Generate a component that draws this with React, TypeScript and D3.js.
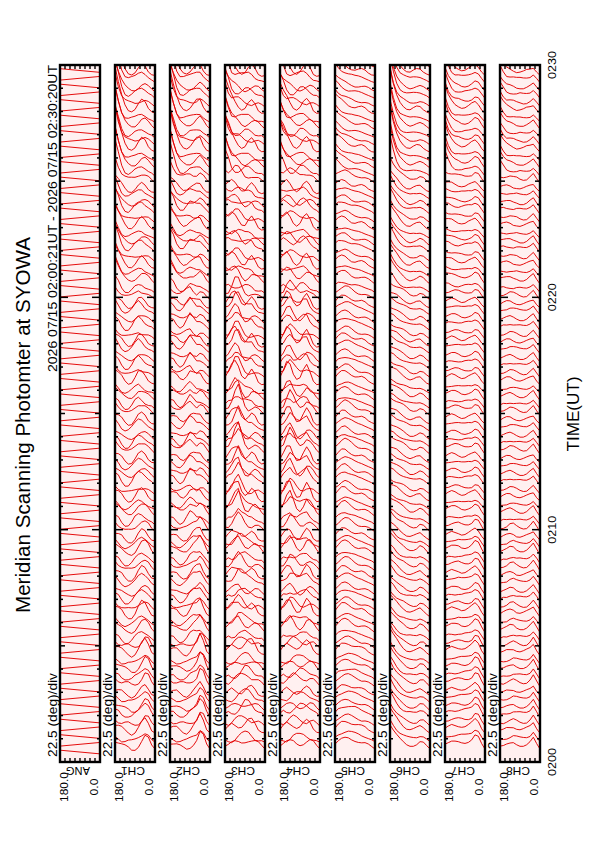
import React from 'react';
import * as d3 from 'd3';

// ---------------- data ----------------
const TITLE = 'Meridian Scanning Photomter at SYOWA';
const DATE_RANGE = '2026 07/15 02:00:21UT - 2026 07/15 02:30:20UT';
const SCALE_LABEL = '22.5 (deg)/div';
const CHANNELS = ['ANG', 'CH1', 'CH2', 'CH3', 'CH4', 'CH5', 'CH6', 'CH7', 'CH8'];
const TIME_TICK_LABELS = ['0200', '0210', '0220', '0230'];
const TIME_TICK_MIN = [0, 10, 20, 30];
const ANGLE_LABELS = ['180.0', '0.0'];
const ANGLE_RANGE = [180, 0];
const ANGLE_TICKS = [22.5, 45, 67.5, 90, 112.5, 135, 157.5];

// scans: 02:00:21 start, one sweep every 20 s, 90 sweeps
const SCAN_START_SEC = 21;
const SCAN_INTERVAL_SEC = 20;
const SCAN_COUNT = 90;

// ANG trace: displacement at the start / end of each sweep (units)
const ANG_SWEEP = [0, 3.8];

// sample angles across each sweep (deg)
const ANGLES = [180, 165, 150, 135, 120, 105, 90, 75, 60, 45, 30, 15, 0];
// profiles hold for 5-minute blocks starting at these minutes after 02:00
const SEGMENT_START_MIN = [0, 5, 10, 15, 20, 25];
// sweep-to-sweep gain fluctuation and small-scale structure
const SCAN_GAIN = [1.0, 0.8, 1.15, 0.9, 1.25, 0.85, 1.05, 0.75, 1.2, 0.95, 1.1, 0.88, 1.3];
const SCAN_WIGGLE = [
  [0, 1, 2, 2, 1, -1, -2, -2, -1, 1, 2, 1, 0],
  [0, -1, -2, -1, 1, 2, 2, 1, -1, -2, -1, 0, 0],
  [0, 2, 3, 1, -1, -2, -1, 1, 2, 1, -1, -1, 0],
  [0, -1, 0, 2, 3, 2, 0, -2, -3, -1, 1, 1, 0],
  [0, 1, -1, -2, -1, 1, 3, 2, 0, -1, 0, 1, 0],
];
const CHANNEL_VARIABILITY = [0.8, 0.8, 1.0, 1.0, 0.35, 0.4, 0.35, 0.35];
const CHANNEL_WIGGLE = [1.2, 1.2, 1.8, 1.8, 0.6, 0.6, 0.6, 0.6];

// intensity profiles (8 units = one sweep spacing)
const CH1_PROFILES = [
  [12, 10, 8, 7, 6, 5, 6, 9, 14, 18, 15, 8, 5],
  [14, 11, 8, 5, 4, 5, 8, 13, 17, 16, 12, 7, 5],
  [16, 13, 9, 6, 5, 7, 11, 15, 16, 14, 10, 7, 5],
  [18, 14, 10, 7, 6, 8, 12, 16, 15, 12, 9, 7, 5],
  [28, 20, 13, 9, 7, 8, 10, 13, 15, 13, 10, 7, 5],
  [45, 30, 18, 11, 8, 8, 9, 12, 15, 14, 10, 7, 5],
];
const CH2_PROFILES = [
  [10, 9, 8, 7, 6, 6, 8, 11, 15, 22, 18, 9, 5],
  [12, 10, 8, 6, 6, 8, 12, 16, 18, 20, 14, 8, 5],
  [14, 12, 10, 8, 9, 13, 17, 16, 14, 15, 12, 8, 5],
  [16, 14, 11, 9, 10, 14, 18, 15, 13, 14, 11, 7, 5],
  [25, 19, 13, 10, 9, 11, 13, 13, 14, 15, 11, 7, 5],
  [42, 28, 17, 11, 9, 9, 10, 12, 15, 16, 11, 7, 5],
];
const CH3_PROFILES = [
  [8, 8, 9, 10, 11, 13, 15, 16, 15, 12, 9, 7, 5],
  [9, 10, 12, 15, 18, 16, 13, 12, 13, 12, 9, 7, 5],
  [10, 12, 16, 22, 26, 18, 12, 11, 14, 13, 9, 6, 5],
  [11, 13, 18, 24, 22, 15, 11, 12, 15, 12, 8, 6, 5],
  [16, 15, 16, 17, 15, 12, 10, 12, 14, 11, 8, 6, 5],
  [35, 24, 16, 13, 11, 10, 10, 12, 13, 11, 8, 6, 5],
];
const CH4_PROFILES = [
  [8, 9, 10, 11, 12, 12, 12, 13, 14, 13, 10, 7, 5],
  [9, 11, 14, 17, 14, 11, 10, 13, 17, 15, 10, 7, 5],
  [10, 13, 19, 23, 17, 12, 11, 15, 20, 16, 10, 6, 5],
  [11, 14, 20, 21, 15, 12, 12, 16, 19, 14, 9, 6, 5],
  [14, 15, 16, 15, 12, 11, 12, 15, 16, 13, 9, 6, 5],
  [30, 21, 15, 12, 10, 10, 11, 13, 14, 12, 8, 6, 5],
];
const CH5_PROFILES = [
  [10, 13, 15, 16, 16, 15, 14, 13, 12, 11, 9, 7, 5],
  [11, 14, 17, 18, 17, 15, 13, 12, 12, 11, 9, 7, 5],
  [12, 15, 18, 19, 17, 15, 13, 12, 12, 11, 9, 7, 5],
  [12, 15, 17, 18, 17, 15, 13, 12, 12, 11, 9, 7, 5],
  [14, 16, 17, 17, 15, 13, 12, 12, 12, 11, 9, 7, 5],
  [24, 20, 17, 15, 13, 12, 11, 11, 11, 10, 8, 6, 5],
];
const CH6_PROFILES = [
  [30, 24, 19, 15, 12, 10, 9, 9, 10, 12, 11, 8, 5],
  [26, 22, 18, 15, 13, 11, 10, 10, 11, 13, 11, 8, 5],
  [22, 20, 18, 16, 14, 12, 10, 10, 11, 12, 10, 7, 5],
  [22, 20, 18, 16, 14, 12, 10, 10, 11, 12, 10, 7, 5],
  [30, 24, 19, 15, 12, 10, 9, 10, 11, 12, 10, 7, 5],
  [48, 32, 21, 15, 12, 10, 9, 10, 11, 11, 9, 7, 5],
];
const CH7_PROFILES = [
  [10, 11, 12, 12, 12, 12, 12, 13, 15, 19, 17, 10, 5],
  [11, 12, 13, 13, 13, 12, 12, 13, 15, 18, 16, 10, 5],
  [12, 13, 14, 14, 13, 12, 12, 13, 14, 16, 14, 9, 5],
  [12, 13, 14, 14, 13, 12, 12, 13, 14, 16, 14, 9, 5],
  [16, 15, 14, 13, 12, 12, 12, 13, 14, 16, 14, 9, 5],
  [32, 22, 16, 13, 12, 11, 11, 12, 14, 16, 14, 9, 5],
];
const CH8_PROFILES = [
  [8, 8, 9, 10, 11, 10, 9, 9, 10, 12, 16, 10, 5],
  [8, 9, 10, 12, 12, 10, 9, 9, 10, 12, 15, 10, 5],
  [9, 10, 11, 12, 11, 10, 9, 9, 10, 12, 14, 9, 5],
  [9, 10, 11, 12, 11, 10, 9, 9, 10, 12, 14, 9, 5],
  [11, 11, 11, 11, 10, 10, 9, 9, 10, 12, 14, 9, 5],
  [22, 16, 12, 11, 10, 9, 9, 9, 10, 11, 13, 9, 5],
];
const CHANNEL_PROFILES = [
  CH1_PROFILES, CH2_PROFILES, CH3_PROFILES, CH4_PROFILES,
  CH5_PROFILES, CH6_PROFILES, CH7_PROFILES, CH8_PROFILES,
];

// ---------------- layout ----------------
const W = 595;
const H = 842;
const PANEL_X0 = 60;
const PANEL_STEP = 55;
const PANEL_W = 40;
const PANEL_TOP = 65;
const PANEL_BOTTOM = 762;
const FONT = "'Liberation Sans', Arial, Helvetica, sans-serif";
const TRACE_COLOR = '#e40000';

const timeScale = d3.scaleLinear().domain([0, 30]).range([PANEL_BOTTOM, PANEL_TOP]);
const spacingPx = timeScale(0) - timeScale(SCAN_INTERVAL_SEC / 60);
const valueScale = d3.scaleLinear().domain([0, 8]).range([0, spacingPx]);
const line = d3.line<[number, number]>().x((d) => d[0]).y((d) => d[1]);

const scanTimes = d3.range(SCAN_COUNT).map((i) => (SCAN_START_SEC + i * SCAN_INTERVAL_SEC) / 60);

function segmentIndex(min: number) {
  return Math.max(0, d3.bisectRight(SEGMENT_START_MIN, min) - 1);
}

function Panel({ index }: { index: number }) {
  const x0 = PANEL_X0 + index * PANEL_STEP;
  const angleScale = d3.scaleLinear().domain(ANGLE_RANGE).range([x0, x0 + PANEL_W]);
  const clipId = `clip-${index}`;
  let paths: string[] = [];
  if (index === 0) {
    paths = scanTimes.map((t, i) => {
      const base = timeScale(t);
      const a0 = i % 2 === 0 ? ANGLE_RANGE[1] : ANGLE_RANGE[0];
      const a1 = i % 2 === 0 ? ANGLE_RANGE[0] : ANGLE_RANGE[1];
      const pts: [number, number][] = [
        [angleScale(a0), base - valueScale(ANG_SWEEP[0])],
        [angleScale(a1), base - valueScale(ANG_SWEEP[1])],
      ];
      return line(pts) || '';
    });
  } else {
    const profiles = CHANNEL_PROFILES[index - 1];
    const varia = CHANNEL_VARIABILITY[index - 1];
    const wig = CHANNEL_WIGGLE[index - 1];
    paths = scanTimes.map((t, i) => {
      const prof = profiles[segmentIndex(t)];
      const g = 1 + varia * (SCAN_GAIN[i % SCAN_GAIN.length] - 1);
      const w = SCAN_WIGGLE[i % SCAN_WIGGLE.length];
      const base = timeScale(t);
      const pts: [number, number][] = ANGLES.map((a, j) => [
        angleScale(a),
        base - valueScale(Math.max(1, prof[j] * g + wig * w[j])),
      ]);
      return line(pts) || '';
    });
  }
  const minutes = d3.range(1, 30);
  return (
    <g>
      <defs>
        <clipPath id={clipId}>
          <rect x={x0} y={PANEL_TOP} width={PANEL_W} height={PANEL_BOTTOM - PANEL_TOP} />
        </clipPath>
      </defs>
      <rect x={x0} y={PANEL_TOP} width={PANEL_W} height={PANEL_BOTTOM - PANEL_TOP} fill="#fff0f0" />
      <g clipPath={`url(#${clipId})`}>
        {paths.map((d, i) => (
          <path key={i} d={d} fill="none" stroke={TRACE_COLOR} strokeWidth={0.95} strokeLinejoin="round" />
        ))}
      </g>
      <rect x={x0} y={PANEL_TOP} width={PANEL_W} height={PANEL_BOTTOM - PANEL_TOP} fill="none" stroke="#000" strokeWidth={2.4} />
      {ANGLE_TICKS.map((a) => (
        <g key={a}>
          <line x1={angleScale(a)} x2={angleScale(a)} y1={PANEL_TOP} y2={PANEL_TOP + 4} stroke="#000" strokeWidth={1.4} />
          <line x1={angleScale(a)} x2={angleScale(a)} y1={PANEL_BOTTOM} y2={PANEL_BOTTOM - 4} stroke="#000" strokeWidth={1.4} />
        </g>
      ))}
      {minutes.map((m) => {
        const len = m % 10 === 0 ? 8 : m % 5 === 0 ? 5 : 3;
        const y = timeScale(m);
        return (
          <g key={m}>
            <line x1={x0} x2={x0 + len} y1={y} y2={y} stroke="#000" strokeWidth={1.5} />
            <line x1={x0 + PANEL_W} x2={x0 + PANEL_W - len} y1={y} y2={y} stroke="#000" strokeWidth={1.5} />
          </g>
        );
      })}
      <text transform={`translate(${x0 - 3},757) rotate(-90)`} fontFamily={FONT} fontSize={12}
        textLength={84} lengthAdjust="spacingAndGlyphs">{SCALE_LABEL}</text>
      <text transform={`translate(${x0 + 8},787) rotate(-90)`} fontFamily={FONT} fontSize={10.5}
        textAnchor="middle" textLength={30} lengthAdjust="spacingAndGlyphs">{ANGLE_LABELS[0]}</text>
      <text transform={`translate(${x0 + 38},787) rotate(-90)`} fontFamily={FONT} fontSize={10.5}
        textAnchor="middle" textLength={17} lengthAdjust="spacingAndGlyphs">{ANGLE_LABELS[1]}</text>
      <text transform={`translate(${x0 + 18},767) rotate(180)`} fontFamily={FONT} fontSize={10}
        textAnchor="middle" textLength={24} lengthAdjust="spacingAndGlyphs">{CHANNELS[index]}</text>
    </g>
  );
}

export default function App() {
  return (
    <svg width={W} height={H} viewBox={`0 0 ${W} ${H}`}
      style={{ position: 'absolute', left: 0, top: 0, background: '#fff' }}>
      <rect x={0} y={0} width={W} height={H} fill="#fff" />
      <text transform="translate(30,425) rotate(-90)" fontFamily={FONT} fontSize={21}
        textAnchor="middle" textLength={376} lengthAdjust="spacingAndGlyphs">{TITLE}</text>
      <text transform="translate(57,372) rotate(-90)" fontFamily={FONT} fontSize={12}
        textLength={307} lengthAdjust="spacingAndGlyphs">{DATE_RANGE}</text>
      {CHANNELS.map((c, i) => (
        <Panel key={c} index={i} />
      ))}
      {TIME_TICK_LABELS.map((lab, i) => (
        <text key={lab} transform={`translate(556,${timeScale(TIME_TICK_MIN[i])}) rotate(-90)`}
          fontFamily={FONT} fontSize={11} textAnchor="middle" textLength={28}
          lengthAdjust="spacingAndGlyphs">{lab}</text>
      ))}
      <text transform="translate(579,414) rotate(-90)" fontFamily={FONT} fontSize={17}
        textAnchor="middle" textLength={75} lengthAdjust="spacingAndGlyphs">TIME(UT)</text>
    </svg>
  );
}
